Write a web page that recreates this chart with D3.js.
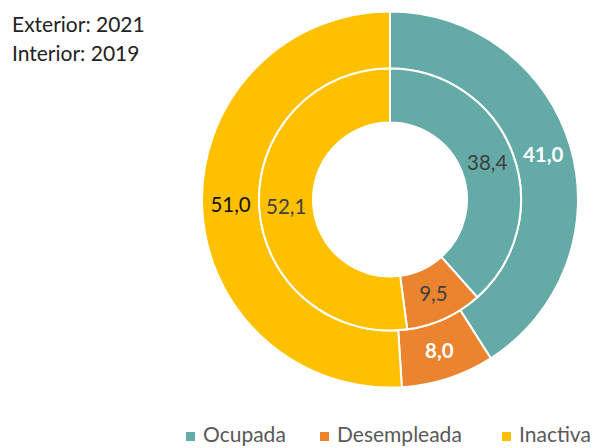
<!DOCTYPE html>
<html><head><meta charset="utf-8">
<script src="https://cdn.jsdelivr.net/npm/d3@7"></script>
<style>body{margin:0;background:#fff}svg{display:block}</style>
</head><body>
<script>
const categories = ["Ocupada", "Desempleada", "Inactiva"];
const outer2021 = [41.0, 8.0, 51.0];
const inner2019 = [38.4, 9.5, 52.1];
const titleLines = ["Exterior: 2021", "Interior: 2019"];
const colors = ["#64AAA7", "#EA842F", "#FFC000"];

const W = 598, H = 448;
const cx = 390, cy = 199.5;
const svg = d3.select("body").append("svg").attr("width", W).attr("height", H);
const font = "Lato, 'Open Sans', sans-serif";

const pie = d3.pie().sort(null).value(d => d);
const color = d3.scaleOrdinal().domain(categories).range(colors);
const fmt = v => d3.format(".1f")(v).replace(".", ",");

const g = svg.append("g").attr("transform", `translate(${cx},${cy})`);

function ring(values, r0, r1, labelStyle) {
  const arc = d3.arc().innerRadius(r0).outerRadius(r1);
  const arcs = pie(values);
  g.append("g").selectAll("path").data(arcs).join("path")
    .attr("d", arc)
    .attr("fill", (d, i) => color(categories[i]))
    .attr("stroke", "#fff").attr("stroke-width", 2);
  g.append("g").selectAll("text").data(arcs).join("text")
    .attr("transform", d => `translate(${arc.centroid(d)})`)
    .attr("text-anchor", "middle").attr("dy", "0.35em")
    .attr("font-family", font).attr("font-size", 20.5)
    .attr("font-weight", (d, i) => labelStyle[i].w)
    .attr("fill", (d, i) => labelStyle[i].c)
    .text(d => fmt(d.data));
}

ring(outer2021, 131, 188, [{c:"#fff", w:700}, {c:"#fff", w:700}, {c:"#111", w:400}]);
ring(inner2019, 77, 131, [{c:"#404040", w:400}, {c:"#404040", w:400}, {c:"#404040", w:400}]);

svg.append("g").selectAll("text").data(titleLines).join("text")
  .attr("x", 12).attr("y", (d, i) => 32 + i * 29)
  .attr("font-family", font).attr("font-size", 21).attr("fill", "#222")
  .text(d => d);

const legendX = [186, 320, 502];
const lg = svg.append("g");
categories.forEach((c, i) => {
  lg.append("rect").attr("x", legendX[i]).attr("y", 432).attr("width", 9).attr("height", 9).attr("fill", color(c));
  lg.append("text").attr("x", legendX[i] + 17).attr("y", 442)
    .attr("font-family", font).attr("font-size", 21).attr("fill", "#595959").text(c);
});
</script>
</body></html>
